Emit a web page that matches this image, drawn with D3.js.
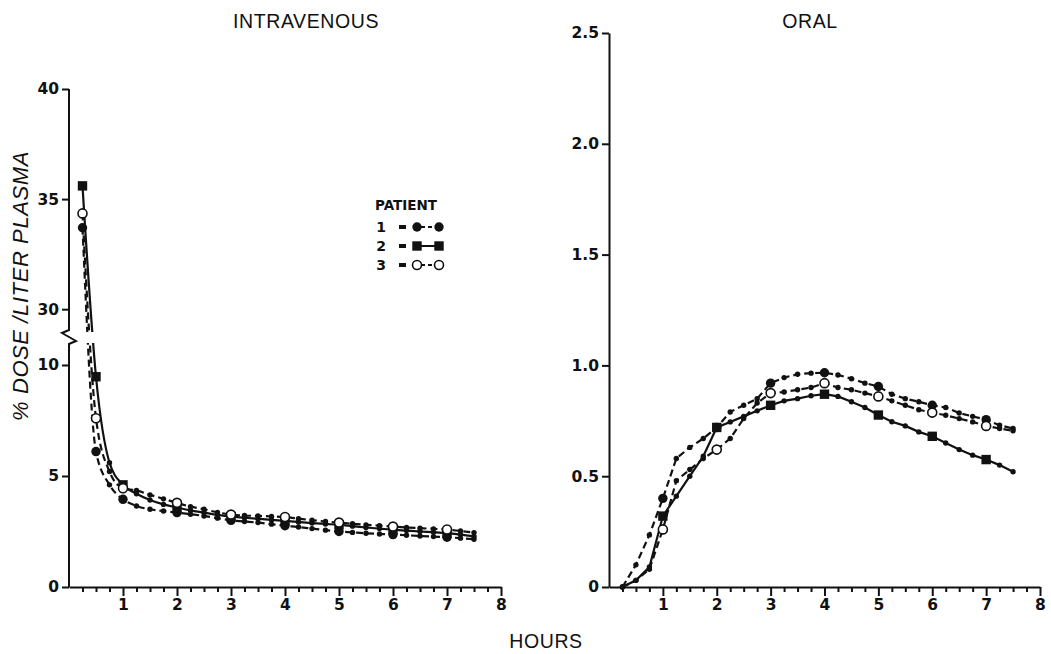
<!DOCTYPE html>
<html><head><meta charset="utf-8">
<script src="https://cdn.jsdelivr.net/npm/d3@7"></script>
<style>body{margin:0;background:#fff} svg{display:block}</style>
</head><body>
<svg id="chart" width="1051" height="654"></svg>
<script>
// ---------- data ----------
const hours = [0.25,0.5,0.75,1,1.25,1.5,1.75,2,2.25,2.5,2.75,3,3.25,3.5,3.75,4,4.25,4.5,4.75,5,5.25,5.5,5.75,6,6.25,6.5,6.75,7,7.25,7.5];
const ivP1 = [33.7,6.1,4.6,3.95,3.65,3.5,3.42,3.35,3.28,3.2,3.1,3.0,2.95,2.9,2.83,2.76,2.7,2.63,2.56,2.5,2.46,2.42,2.39,2.36,2.33,2.3,2.27,2.24,2.2,2.15];
const ivP2 = [35.6,9.47,5.6,4.6,4.2,3.92,3.72,3.58,3.45,3.35,3.25,3.17,3.12,3.07,3.02,2.98,2.93,2.88,2.84,2.8,2.74,2.68,2.63,2.58,2.54,2.5,2.47,2.43,2.36,2.28];
const ivP3 = [34.35,7.6,5.2,4.45,4.35,4.15,3.97,3.79,3.62,3.5,3.36,3.26,3.22,3.2,3.18,3.15,3.08,3.01,2.95,2.9,2.85,2.8,2.76,2.72,2.68,2.65,2.62,2.59,2.52,2.45];
const oralP1 = [0,0.10,0.235,0.40,0.58,0.63,0.67,0.72,0.79,0.82,0.85,0.92,0.945,0.96,0.965,0.967,0.957,0.94,0.92,0.905,0.87,0.85,0.836,0.82,0.81,0.785,0.77,0.755,0.73,0.715];
const oralP2 = [0,0.03,0.09,0.32,0.41,0.50,0.59,0.72,0.745,0.77,0.795,0.82,0.84,0.85,0.863,0.87,0.86,0.836,0.81,0.776,0.746,0.727,0.70,0.68,0.65,0.62,0.595,0.575,0.55,0.52];
const oralP3 = [0,0.03,0.08,0.26,0.48,0.53,0.58,0.62,0.67,0.76,0.83,0.875,0.88,0.89,0.90,0.92,0.90,0.89,0.875,0.86,0.84,0.82,0.80,0.787,0.775,0.76,0.745,0.727,0.715,0.705];
const ivTicks = [0,5,10,30,35,40];
const oralTicks = [0,0.5,1.0,1.5,2.0,2.5];
const oralTickLabels = ["0","0.5","1.0","1.5","2.0","2.5"];
const hourTicks = [1,2,3,4,5,6,7,8];
const patients = ["1","2","3"];
const panelTitles = ["INTRAVENOUS","ORAL"];
const yLabel = "% DOSE /LITER PLASMA";
const xLabel = "HOURS";

// ---------- setup ----------
const svg = d3.select("#chart");
const INK = "#111";
const tickFont = "'DejaVu Sans', sans-serif";
const styles = [
  {dash:"7,4", marker:"dot"},
  {dash:null, marker:"square"},
  {dash:"7,4", marker:"open"}
];

const xIV = d3.scaleLinear().domain([0,8]).range([69,501]);
const yIV = d3.scaleLinear().domain([0,10.9,29.1,40]).range([587,345,329,89]);
const xOR = d3.scaleLinear().domain([0,8]).range([609,1040]);
const yOR = d3.scaleLinear().domain([0,2.5]).range([587,33]);

const quarters = d3.range(0.25, 8.01, 0.25).filter(h => Math.abs(h - Math.round(h)) > 1e-6);

function styleAxis(g){
  g.selectAll("path,line").attr("stroke",INK).attr("stroke-width",2);
  g.selectAll("text").attr("fill",INK).style("font-family",tickFont)
   .style("font-weight","bold").style("font-size","15.5px");
}

function xAxis(x){
  const g = svg.append("g").attr("transform","translate(0,587)");
  g.call(d3.axisBottom(x).tickValues(hourTicks).tickSize(9).tickSizeOuter(0).tickPadding(3));
  styleAxis(g);
  const gm = svg.append("g").attr("transform","translate(0,587)");
  gm.call(d3.axisBottom(x).tickValues(quarters).tickSize(5).tickFormat(""));
  gm.select(".domain").remove();
  styleAxis(gm);
}

// ---------- IV panel ----------
xAxis(xIV);
const gyIV = svg.append("g").attr("transform",`translate(${xIV(0)},0)`);
gyIV.call(d3.axisLeft(yIV).tickValues(ivTicks).tickSize(7).tickPadding(3));
gyIV.select(".domain").remove();
styleAxis(gyIV);
// broken axis line
const ax0 = xIV(0);
svg.append("path")
  .attr("d",`M${ax0},${yIV(40)}V${yIV(29.1)+1}L${ax0-7},${yIV(29.1)+4}L${ax0+7},${yIV(10.9)-4}L${ax0},${yIV(10.9)-1}V${yIV(0)}`)
  .attr("fill","none").attr("stroke",INK).attr("stroke-width",2);

// clip for the break
const defs = svg.append("defs");
const cp = defs.append("clipPath").attr("id","ivclip");
cp.append("rect").attr("x",0).attr("y",0).attr("width",1051).attr("height",yIV(29.1)+3);
cp.append("rect").attr("x",0).attr("y",yIV(10.9)-2).attr("width",1051).attr("height",654);

// ---------- Oral panel ----------
xAxis(xOR);
const gyOR = svg.append("g").attr("transform",`translate(${xOR(0)},0)`);
gyOR.call(d3.axisLeft(yOR).tickValues(oralTicks).tickFormat((d,i)=>oralTickLabels[i]).tickSize(7).tickSizeOuter(0).tickPadding(3));
styleAxis(gyOR);

// ---------- series ----------
function drawMarker(g, type, cx, cy, big){
  if(!big){
    g.append("circle").attr("cx",cx).attr("cy",cy).attr("r",2.7).attr("fill",INK);
    return;
  }
  if(type==="dot") g.append("circle").attr("cx",cx).attr("cy",cy).attr("r",4.7).attr("fill",INK);
  else if(type==="square") g.append("rect").attr("x",cx-4.7).attr("y",cy-4.7).attr("width",9.4).attr("height",9.4).attr("fill",INK);
  else g.append("circle").attr("cx",cx).attr("cy",cy).attr("r",4.5).attr("fill","#fff").attr("stroke",INK).attr("stroke-width",1.6);
}

function drawSeries(values, x, y, st, curve, clip, bigFn){
  const pts = hours.map((h,i)=>[h, values[i]]);
  const line = d3.line().x(d=>x(d[0])).y(d=>y(d[1])).curve(curve);
  const p = svg.append("path").datum(pts).attr("d",line)
    .attr("fill","none").attr("stroke",INK).attr("stroke-width",2.2);
  if(st.dash) p.attr("stroke-dasharray",st.dash);
  if(clip) p.attr("clip-path","url(#ivclip)");
  const g = svg.append("g");
  pts.forEach(d=>{
    drawMarker(g, st.marker, x(d[0]), y(d[1]), bigFn(d[0]));
  });
}

const isWhole = h => Math.abs(h-Math.round(h))<1e-6;
[ivP1, ivP2, ivP3].forEach((v,i)=>drawSeries(v, xIV, yIV, styles[i], d3.curveMonotoneX, true, h => isWhole(h) || h<0.6));
[oralP1, oralP2, oralP3].forEach((v,i)=>drawSeries(v, xOR, yOR, styles[i], d3.curveLinear, false, h => isWhole(h)));

// ---------- legend ----------
const lg = svg.append("g");
lg.append("text").attr("x",375).attr("y",210).text("PATIENT")
  .style("font-family",tickFont).style("font-weight","bold").style("font-size","13.5px").attr("fill",INK);
patients.forEach((p,i)=>{
  const cy = 227 + i*19;
  lg.append("text").attr("x",381).attr("y",cy+5).attr("text-anchor","middle").text(p)
    .style("font-family",tickFont).style("font-weight","bold").style("font-size","14px").attr("fill",INK);
  lg.append("rect").attr("x",399).attr("y",cy-2).attr("width",7).attr("height",4).attr("fill",INK);
  const ln = lg.append("line").attr("x1",417).attr("x2",439).attr("y1",cy).attr("y2",cy)
    .attr("stroke",INK).attr("stroke-width",2);
  if(styles[i].dash) ln.attr("stroke-dasharray","4,3").attr("stroke-dashoffset",-4);
  drawMarker(lg, styles[i].marker, 417, cy, true);
  drawMarker(lg, styles[i].marker, 439, cy, true);
});

// ---------- titles ----------
const titleFont = "'Liberation Sans', Arial, sans-serif";
svg.append("text").attr("x",306).attr("y",28).attr("text-anchor","middle").text(panelTitles[0])
  .style("font-family",titleFont).style("font-size","19.5px").style("letter-spacing","0.6px").attr("fill",INK);
svg.append("text").attr("x",810).attr("y",28).attr("text-anchor","middle").text(panelTitles[1])
  .style("font-family",titleFont).style("font-size","19.5px").style("letter-spacing","0.6px").attr("fill",INK);
svg.append("text").attr("x",546).attr("y",648).attr("text-anchor","middle").text(xLabel)
  .style("font-family",titleFont).style("font-size","19.5px").style("letter-spacing","0.6px").attr("fill",INK);
svg.append("text").attr("transform","translate(28,286) rotate(-90)").attr("text-anchor","middle").text(yLabel)
  .style("font-family",titleFont).style("font-style","italic").style("font-size","22px").style("letter-spacing","0.6px").attr("fill",INK);
</script>
</body></html>
